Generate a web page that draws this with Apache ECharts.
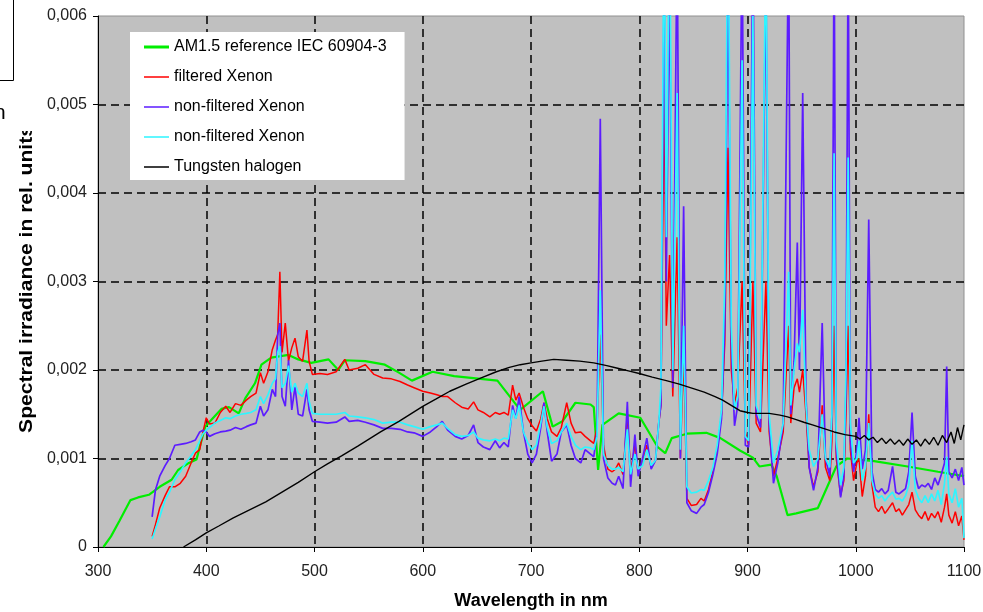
<!DOCTYPE html>
<html><head><meta charset="utf-8">
<script src="https://cdn.jsdelivr.net/npm/echarts@6/dist/echarts.min.js"></script>
<style>html,body{margin:0;padding:0;background:#fff}#c{width:983px;height:612px}</style>
</head><body><div id="c"></div>
<script>
// ---------- DATA ----------
const xTicks = [300, 400, 500, 600, 700, 800, 900, 1000, 1100];
const yTicks = [0, 0.001, 0.002, 0.003, 0.004, 0.005, 0.006];
const seriesNames = ['AM1.5 reference IEC 60904-3', 'filtered Xenon', 'non-filtered Xenon', 'non-filtered Xenon ', 'Tungsten halogen'];

const amNm = [305,312,320,330,337,347,357,368,374,384, 391,399,405,414,421,430,436,445,451,460,
  476,485,497,513,522,528,547,565,578,590, 609,629,669,683,690,711,720,729,741,755,
  758,762,766,781,801,817,824,830,844,862, 875,893,905,911,922,927,937,945,965,982,
  992,1001,1017,1048,1076,1100];
const am15 = [0,0.00012,0.00030,0.00053,0.00056,0.00059,0.00068,0.00076,0.00087,0.00095,
  0.00099,0.00136,0.00144,0.00156,0.00158,0.00151,0.00168,0.00185,0.00206,0.00214,
  0.00217,0.00212,0.00208,0.00212,0.00200,0.00211,0.00210,0.00206,0.00197,0.00188,
  0.00198,0.00193,0.00188,0.00166,0.00155,0.00176,0.00136,0.00142,0.00163,0.00161,
  0.00158,0.00087,0.00138,0.00151,0.00146,0.00113,0.00106,0.00123,0.00128,0.00129,
  0.00123,0.00109,0.00101,0.00091,0.00093,0.00080,0.00036,0.00038,0.00044,0.00091,
  0.00100,0.00099,0.00097,0.00091,0.00085,0.00080];

const xenonNm = [350,353,357,362,366,371,376,381,386,390,
  394,397,400,403,408,413,418,422,427,432,
  437,441,446,450,453,457,461,464,466,468,
  470,473,476,479,482,485,489,493,495,498,
  505,512,520,528,532,540,547,555,563,571,
  579,586,592,600,607,613,618,623,630,636,
  642,647,651,656,662,667,671,675,679,683,
  686,689,693,697,701,705,709,712,715,719,
  724,728,733,737,741,746,750,755,758,761,
  764,767,771,775,778,781,785,789,792,796,
  799,803,807,811,815,818,820,823,825,828,
  831,835,838,841,844,848,853,857,860,864,
  868,872,876,879,882,885,888,891,895,898,
  901,905,908,912,917,920,924,928,933,938,
  940,943,946,948,951,954,957,961,965,969,
  972,976,978,980,982,986,989,991,993,995,
  998,1001,1003,1006,1009,1012,1015,1018,1021,1024,
  1027,1030,1034,1037,1040,1043,1046,1049,1052,1055,
  1058,1061,1064,1067,1070,1073,1076,1079,1082,1084,
  1086,1089,1092,1095,1098,1100];
const filteredXenon = [0.00012,0.00025,0.00044,0.00058,0.00068,0.00068,0.00072,0.00080,0.00095,0.00106,
  0.00110,0.00130,0.00146,0.00139,0.00140,0.00152,0.00159,0.00152,0.00162,0.00160,
  0.00166,0.00170,0.00174,0.00197,0.00185,0.00198,0.00223,0.00234,0.00240,0.00311,
  0.00220,0.00253,0.00210,0.00225,0.00236,0.00215,0.00210,0.00245,0.00210,0.00195,
  0.00196,0.00195,0.00198,0.00212,0.00200,0.00202,0.00206,0.00195,0.00191,0.00190,
  0.00187,0.00183,0.00180,0.00176,0.00174,0.00172,0.00170,0.00170,0.00163,0.00158,
  0.00156,0.00164,0.00155,0.00152,0.00147,0.00152,0.00150,0.00152,0.00149,0.00183,
  0.00166,0.00174,0.00158,0.00145,0.00137,0.00131,0.00145,0.00163,0.00145,0.00130,
  0.00125,0.00135,0.00163,0.00140,0.00129,0.00130,0.00125,0.00120,0.00117,0.00135,
  0.00240,0.00115,0.00088,0.00085,0.00088,0.00095,0.00082,0.00150,0.00085,0.00115,
  0.00085,0.00095,0.00115,0.00090,0.00098,0.00140,0.00160,0.00520,0.00250,0.00330,
  0.00170,0.00350,0.00100,0.00220,0.00055,0.00047,0.00048,0.00055,0.00052,0.00065,
  0.00085,0.00110,0.00150,0.00230,0.00451,0.00200,0.00162,0.00180,0.00300,0.00130,
  0.00115,0.00300,0.00140,0.00130,0.00300,0.00130,0.00080,0.00100,0.00130,0.00250,
  0.00140,0.00180,0.00190,0.00175,0.00200,0.00150,0.00090,0.00068,0.00085,0.00160,
  0.00090,0.00075,0.00120,0.00250,0.00100,0.00058,0.00075,0.00150,0.00250,0.00110,
  0.00075,0.00095,0.00100,0.00057,0.00080,0.00150,0.00070,0.00045,0.00040,0.00046,
  0.00038,0.00043,0.00050,0.00040,0.00043,0.00036,0.00042,0.00048,0.00062,0.00042,
  0.00036,0.00032,0.00040,0.00030,0.00038,0.00033,0.00040,0.00028,0.00045,0.00060,
  0.00036,0.00027,0.00040,0.00024,0.00035,0.00008];
const nonFilteredXenonA = [0.00034,0.00064,0.00080,0.00092,0.00100,0.00115,0.00116,0.00117,0.00119,0.00121,
  0.00130,0.00132,0.00130,0.00125,0.00128,0.00130,0.00131,0.00132,0.00135,0.00133,
  0.00136,0.00138,0.00140,0.00159,0.00148,0.00155,0.00178,0.00170,0.00240,0.00253,
  0.00170,0.00159,0.00211,0.00155,0.00181,0.00150,0.00148,0.00178,0.00155,0.00142,
  0.00141,0.00140,0.00141,0.00147,0.00142,0.00143,0.00141,0.00138,0.00134,0.00134,
  0.00133,0.00130,0.00129,0.00125,0.00130,0.00136,0.00142,0.00132,0.00125,0.00122,
  0.00126,0.00138,0.00118,0.00113,0.00110,0.00120,0.00112,0.00118,0.00113,0.00160,
  0.00145,0.00170,0.00130,0.00105,0.00095,0.00105,0.00135,0.00163,0.00130,0.00097,
  0.00105,0.00130,0.00138,0.00115,0.00100,0.00095,0.00110,0.00105,0.00102,0.00130,
  0.00484,0.00100,0.00078,0.00072,0.00070,0.00080,0.00066,0.00164,0.00068,0.00127,
  0.00080,0.00100,0.00123,0.00088,0.00098,0.00140,0.00160,0.00650,0.00300,0.00650,
  0.00180,0.00700,0.00100,0.00385,0.00050,0.00041,0.00038,0.00045,0.00048,0.00062,
  0.00082,0.00105,0.00145,0.00250,0.00650,0.00230,0.00137,0.00160,0.00700,0.00115,
  0.00113,0.00700,0.00150,0.00135,0.00650,0.00140,0.00072,0.00095,0.00140,0.00700,
  0.00150,0.00210,0.00344,0.00200,0.00513,0.00170,0.00090,0.00064,0.00090,0.00253,
  0.00100,0.00080,0.00150,0.00700,0.00110,0.00056,0.00080,0.00180,0.00700,0.00120,
  0.00085,0.00110,0.00146,0.00088,0.00110,0.00370,0.00085,0.00065,0.00062,0.00066,
  0.00060,0.00064,0.00091,0.00062,0.00060,0.00063,0.00066,0.00085,0.00152,0.00080,
  0.00066,0.00070,0.00068,0.00072,0.00065,0.00078,0.00070,0.00082,0.00095,0.00204,
  0.00085,0.00078,0.00088,0.00075,0.00090,0.00070];
const nonFilteredXenonB = [0.00009,0.00020,0.00034,0.00053,0.00062,0.00076,0.00085,0.00095,0.00103,0.00110,
  0.00120,0.00128,0.00132,0.00135,0.00140,0.00143,0.00146,0.00145,0.00148,0.00150,
  0.00151,0.00152,0.00155,0.00170,0.00162,0.00172,0.00185,0.00190,0.00220,0.00227,
  0.00180,0.00185,0.00205,0.00175,0.00185,0.00174,0.00170,0.00185,0.00165,0.00151,
  0.00150,0.00150,0.00150,0.00152,0.00148,0.00147,0.00146,0.00144,0.00140,0.00141,
  0.00141,0.00138,0.00136,0.00133,0.00136,0.00138,0.00140,0.00134,0.00127,0.00125,
  0.00126,0.00130,0.00123,0.00121,0.00120,0.00122,0.00120,0.00123,0.00122,0.00155,
  0.00145,0.00160,0.00130,0.00118,0.00110,0.00115,0.00140,0.00159,0.00135,0.00117,
  0.00120,0.00130,0.00140,0.00125,0.00115,0.00110,0.00113,0.00112,0.00110,0.00125,
  0.00290,0.00105,0.00092,0.00088,0.00088,0.00090,0.00085,0.00133,0.00082,0.00105,
  0.00088,0.00092,0.00110,0.00092,0.00098,0.00140,0.00180,0.00750,0.00350,0.00750,
  0.00200,0.00513,0.00110,0.00250,0.00068,0.00061,0.00062,0.00065,0.00064,0.00075,
  0.00090,0.00115,0.00155,0.00300,0.00750,0.00250,0.00155,0.00170,0.00550,0.00125,
  0.00120,0.00600,0.00160,0.00145,0.00700,0.00150,0.00095,0.00110,0.00140,0.00311,
  0.00160,0.00200,0.00230,0.00220,0.00268,0.00160,0.00110,0.00091,0.00100,0.00150,
  0.00100,0.00090,0.00150,0.00445,0.00120,0.00070,0.00090,0.00200,0.00440,0.00140,
  0.00095,0.00100,0.00120,0.00075,0.00090,0.00140,0.00075,0.00060,0.00055,0.00058,
  0.00052,0.00057,0.00062,0.00054,0.00055,0.00052,0.00058,0.00070,0.00120,0.00065,
  0.00055,0.00050,0.00058,0.00050,0.00060,0.00052,0.00064,0.00048,0.00072,0.00102,
  0.00060,0.00050,0.00066,0.00045,0.00055,0.00010];

const tungNm = [379,390,400,412,425,440,455,470,485,500,
  512,525,540,561,578,600,612,625,640,654,
  668,680,690,700,710,721,733,745,758,770,
  780,790,800,812,825,837,850,860,870,877,
  885,893,900,905,912,920,930,937,945,952,
  960,970,980,990,1000,
  1004,1008,1012,1016,1020,1024,1028,1032,1036,1040,
  1044,1048,1052,1056,1060,1064,1068,1072,1076,1080,
  1084,1088,1091,1094,1097,1100];
const tungsten = [0,0.00008,0.00016,0.00024,0.00033,0.00042,0.00051,0.00062,0.00073,0.00085,
  0.00094,0.00103,0.00114,0.00130,0.00142,0.00159,0.00167,0.00176,0.00184,0.00191,
  0.00198,0.00203,0.00206,0.00208,0.00210,0.00212,0.00211,0.00210,0.00208,0.00205,
  0.00202,0.00199,0.00196,0.00192,0.00188,0.00184,0.00179,0.00175,0.00170,0.00166,
  0.00160,0.00154,0.00152,0.00151,0.00151,0.00151,0.00149,0.00147,0.00144,0.00141,
  0.00138,0.00134,0.00130,0.00127,0.00125,
  0.00122,0.00126,0.00121,0.00124,0.00118,0.00123,0.00117,0.00122,0.00116,0.00121,
  0.00115,0.00122,0.00116,0.00121,0.00114,0.00122,0.00116,0.00124,0.00115,0.00126,
  0.00118,0.00130,0.00117,0.00135,0.00121,0.00138];

// ---------- CHART ----------
const FONT = '"Liberation Sans", Arial, Helvetica, sans-serif';
const chart = echarts.init(document.getElementById('c'), null, { renderer: 'canvas' });
const pairs = (xs, ys) => xs.map((x, i) => [x, ys[i]]);
const mk = (name, xs, ys, color, width) => ({
  name, type: 'line', data: pairs(xs, ys), symbol: 'none', showSymbol: false,
  lineStyle: { color, width }, itemStyle: { color }, clip: true, animation: false
});
// legend icons: plain horizontal strokes (bounding box 25x16 kept by tiny corner segments)
const thinIcon = 'path://M0,0L0.01,0.01M0,7.2H25V8.8H0ZM25,16L24.99,15.99';
const thickIcon = 'path://M0,0L0.01,0.01M0,6.6H25V9.4H0ZM25,16L24.99,15.99';

chart.setOption({
  animation: false,
  backgroundColor: '#ffffff',
  grid: { left: 98, right: 19, top: 16, bottom: 65, outerBoundsMode: 'none', containLabel: false,
    show: true, backgroundColor: '#c0c0c0', borderColor: '#909090', borderWidth: 1 },
  legend: {
    orient: 'vertical', left: 130, top: 32, padding: [7, 18, 5, 14],
    itemWidth: 25, itemHeight: 16, itemGap: 14, backgroundColor: '#ffffff', borderWidth: 0,
    textStyle: { fontFamily: FONT, fontSize: 16, color: '#000' },
    data: seriesNames.map((n, i) => ({ name: n, icon: i === 0 ? thickIcon : thinIcon }))
  },
  xAxis: {
    type: 'value', min: xTicks[0], max: xTicks[xTicks.length - 1], interval: 100,
    axisLine: { show: true, lineStyle: { color: '#000', width: 1 } },
    axisTick: { show: true, length: 5, lineStyle: { color: '#000' } },
    axisLabel: { fontFamily: FONT, fontSize: 16, color: '#222', margin: 17, formatter: v => String(v) },
    splitLine: { show: true, showMinLine: false, showMaxLine: false, lineStyle: { color: '#000', type: [8, 5], width: 1.5 } },
    name: 'Wavelength in nm', nameLocation: 'middle', nameGap: 45,
    nameTextStyle: { fontFamily: FONT, fontWeight: 'bold', fontSize: 18, color: '#000' }
  },
  yAxis: {
    type: 'value', min: yTicks[0], max: yTicks[yTicks.length - 1], interval: 0.001,
    axisLine: { show: true, lineStyle: { color: '#000', width: 1 } },
    axisTick: { show: true, length: 5, lineStyle: { color: '#000' } },
    axisLabel: { fontFamily: FONT, fontSize: 16, color: '#222', margin: 11,
      formatter: v => v === 0 ? '0' : v.toFixed(3).replace('.', ',') },
    splitLine: { show: true, showMinLine: false, showMaxLine: false, lineStyle: { color: '#000', type: [8, 5], width: 1.5 } }
  },
  graphic: [
    { type: 'text', x: 27, y: 279, rotation: Math.PI / 2, scaleX: 1.17, z: 10,
      style: { text: 'Spectral irradiance in rel. units', font: 'bold 18px ' + FONT, fill: '#000',
        textAlign: 'center', textVerticalAlign: 'middle', align: 'center', verticalAlign: 'middle' } },
    { type: 'rect', shape: { x: 12, y: 82, width: 34, height: 49 }, style: { fill: '#ffffff' }, z: 11 },
    { type: 'polyline', shape: { points: [[13.5, 0], [13.5, 80.5], [0, 80.5]] }, style: { stroke: '#000', lineWidth: 1, fill: null }, z: 12 },
    { type: 'text', x: -6, y: 124, z: 12,
      style: { text: 'n', font: '21px ' + FONT, fill: '#000', textAlign: 'left', textVerticalAlign: 'bottom', align: 'left', verticalAlign: 'bottom' } }
  ],
  series: [
    mk(seriesNames[0], amNm, am15, '#00ee00', 2.2),
    mk(seriesNames[1], xenonNm, filteredXenon, '#ff0000', 1.5),
    mk(seriesNames[2], xenonNm, nonFilteredXenonA, '#5c1cff', 1.7),
    mk(seriesNames[3], xenonNm, nonFilteredXenonB, '#2ef5ff', 1.7),
    mk(seriesNames[4], tungNm, tungsten, '#000000', 1.4)
  ]
});
</script></body></html>
